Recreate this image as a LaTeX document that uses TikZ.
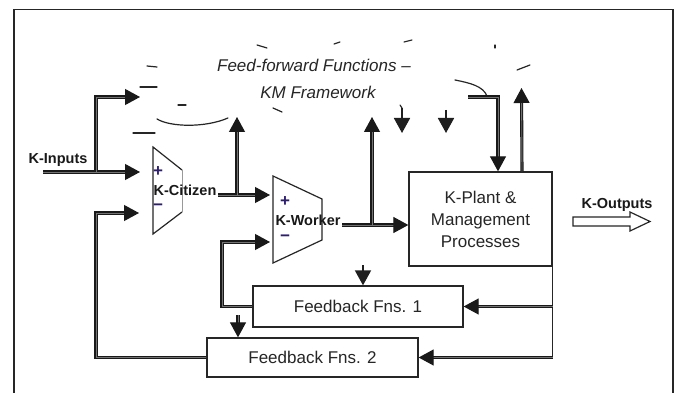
\documentclass[tikz,border=0pt]{standalone}
\usepackage{fontspec}
\setmainfont{Liberation Sans}
\usetikzlibrary{arrows.meta,calc}

\begin{document}
\begin{tikzpicture}[x=1pt,y=-1pt,
  frame/.style={draw=black!85, line width=1.4pt},
  wire/.style={draw=black!90, line width=1.1pt, double=black!55, double distance=0.9pt},
  thinwire/.style={draw=black!88, line width=1.8pt},
  tip/.style={-{Triangle[length=15pt,width=16pt]}},
  blk/.style={draw=black!85, line width=1.3pt, inner sep=0pt, align=center,
    font=\fontsize{17}{22}\selectfont, text=black!85},
  klabel/.style={font=\fontsize{14.5}{16}\selectfont\bfseries, inner sep=0pt, text=black!90},
  sign/.style={font=\fontsize{17}{17}\selectfont\bfseries, text={rgb,255:red,45;green,30;blue,110}, inner sep=0pt},
  cloudbit/.style={draw=black!85, line width=1.2pt, line cap=round},
  fftext/.style={font=\fontsize{17}{20}\selectfont\itshape, text=black!85, inner sep=0pt}
]
\useasboundingbox (0,0) rectangle (680,393);
\fill[white] (0,0) rectangle (680,393);

% outer frame (open at the bottom)
\draw[frame] (14,393) -- (14,9.5) -- (673,9.5) -- (673,393);

% broken cloud outline of the feed-forward area
\draw[cloudbit] (147,66) -- (157,67);
\draw[cloudbit] (140,87) -- (157,87);
\draw[cloudbit] (178,105) -- (186,105);
\draw[cloudbit] (157,119) .. controls (170,127) and (205,128) .. (228,118);
\draw[cloudbit] (133,133) -- (155,133);
\draw[cloudbit] (257,45) -- (267,48);
\draw[cloudbit] (273,108) -- (282,112);
\draw[cloudbit] (334,44) -- (340,42);
\draw[cloudbit] (404,42) -- (412,40);
\draw[cloudbit] (495,45) -- (495,48);
\draw[cloudbit] (517,70) -- (530,65);
\draw[cloudbit] (455,80) .. controls (470,83) and (483,86) .. (487,96);
\draw[cloudbit] (400,105) -- (402,108);
\node[fftext] (ff1) at (314,65) {Feed-forward Functions –};
\node[fftext] (ff2) at (318,92) {KM Framework};

% K-Citizen comparator
\draw[draw=black!85, line width=1.2pt] (182,170) -- (153,147) -- (153,234) -- (182,212);
\draw[draw=black!40, line width=0.6pt] (182,170) -- (182,212);
\node[klabel] (citizen) at (185,190) {K-Citizen};
\node[sign] (czplus) at (158,172) {+};
\node[sign] (czminus) at (158,207) {−};

% K-Worker comparator
\draw[draw=black!85, line width=1.2pt] (273,176) -- (322,199) -- (322,240) -- (273,263) -- cycle;
\node[klabel] (worker) at (308,220) {K-Worker};
\node[sign] (wkplus) at (285,202) {+};
\node[sign] (wkminus) at (285,238) {−};

% blocks
\node[blk, minimum width=143pt, minimum height=94pt] (plant) at (480.5,219)
  {K-Plant \&\\Management\\Processes};
\node[blk, minimum width=210pt, minimum height=41pt] (fb1) at (358,306.5) {Feedback Fns. 1};
\node[blk, minimum width=211pt, minimum height=39pt] (fb2) at (312.5,357.5) {Feedback Fns. 2};

% labels of the open ends
\node[klabel] (kin) at (58,160) {K-Inputs};
\node[klabel] (kout) at (617,205) {K-Outputs};

% connection points
\coordinate (inL) at (43,172);
\coordinate (inBr) at (96,172);
\coordinate (czIn1) at (140,172);
\coordinate (ffIn) at (140,97);
\coordinate (czOut) at (218,195);
\coordinate (czBr) at (237,195);
\coordinate (wkIn1) at (270,195);
\coordinate (czUp) at (237,117);
\coordinate (wkOut) at (342,225);
\coordinate (wkBr) at (372,225);
\coordinate (wkUp) at (372,117);
\coordinate (ffDownA) at (402,108);
\coordinate (ffDownAend) at (402,133);
\coordinate (ffDownB) at (446,110);
\coordinate (ffDownBend) at (446,133);
\coordinate (ffR) at (468,97);
\coordinate (plantIn) at ([xshift=17.5pt]plant.north);
\coordinate (plantOut) at ([xshift=41.5pt]plant.north);
\coordinate (ffUp) at (521.5,88);
\coordinate (wkIn2) at (270,242);
\coordinate (fb1Turn) at (222,242);
\coordinate (czIn2) at (139,213);
\coordinate (fb2Turn) at (96,213);
\coordinate (fb1Drop) at (363,265);
\coordinate (fb2Drop) at (238,315);

% feed-forward connectors
\draw[wire, tip] (inL) -- (czIn1);
\draw[wire, tip] (inBr) |- (ffIn);
\draw[wire, tip] (czOut) -- (wkIn1);
\draw[wire, tip] (czBr) -- (czUp);
\draw[wire, tip] (wkOut) -- (wkOut -| plant.west);
\draw[wire, tip] (wkBr) -- (wkUp);
\draw[thinwire, tip] (ffDownA) -- (ffDownAend);
\draw[thinwire, tip] (ffDownB) -- (ffDownBend);
\draw[wire, tip] (ffR) -| (plantIn);
\draw[wire, tip] (plantOut) -- (ffUp);

% feedback connectors
\draw[draw=black!85, line width=1.4pt] (plant.south east) -- (plant.south east |- fb2.east);
\draw[wire, tip] (plant.south east |- fb1.east) -- (fb1.east);
\draw[wire, tip] (plant.south east |- fb2.east) -- (fb2.east);
\draw[wire, tip] (fb1.west) -| (fb1Turn) -- (wkIn2);
\draw[wire, tip] (fb2.west) -| (fb2Turn) -- (czIn2);
\draw[thinwire, tip] (fb1Drop) -- (fb1Drop |- fb1.north);
\draw[wire, tip] (fb2Drop) -- (fb2Drop |- fb2.north);

% hollow output arrow
\draw[draw=black!85, line width=1.2pt, fill=white]
  (573,217) -- (630,217) -- (630,212) -- (650,221.5) -- (630,231) -- (630,226) -- (573,226) -- cycle;
\end{tikzpicture}
\end{document}
